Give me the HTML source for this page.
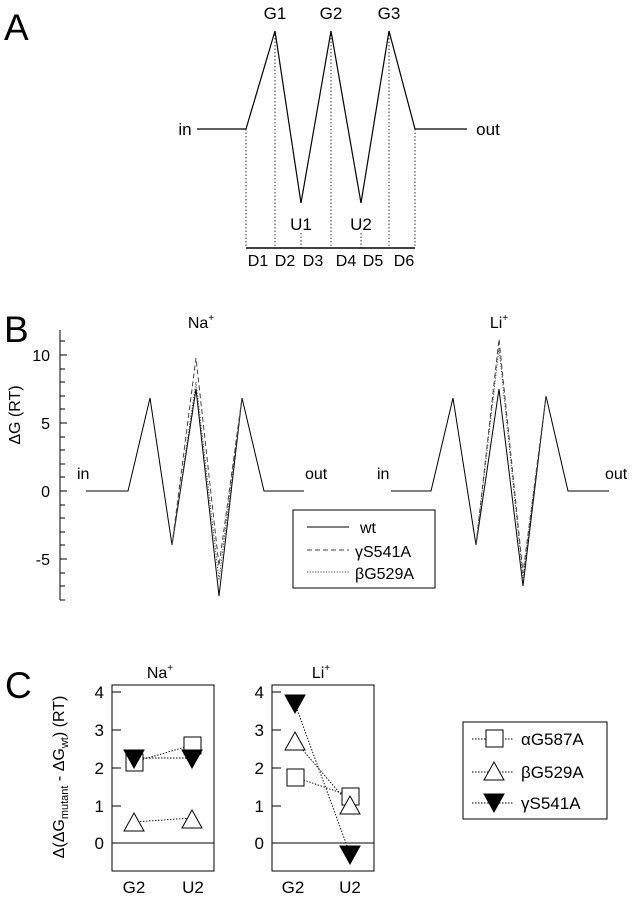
<!DOCTYPE html>
<html><head><meta charset="utf-8"><style>
html,body{margin:0;padding:0;background:#fff;}
svg{display:block;font-family:"Liberation Sans",sans-serif;}
</style></head><body>
<svg width="635" height="900" viewBox="0 0 635 900" xmlns="http://www.w3.org/2000/svg">
<g fill="#000" stroke="none">
<text x="4" y="40" font-size="37">A</text>
<text x="4" y="342" font-size="37">B</text>
<text x="5" y="698" font-size="37">C</text>
</g>
<!-- Panel A -->
<g stroke="#000" stroke-width="1.2" fill="none">
<polyline points="197,129 246,129 275,31 301,203 331,31 361,203 389,31 415,129 467,129"/>
<line x1="246" y1="248" x2="415" y2="248" stroke-width="1.6"/>
</g>
<g stroke="#000" stroke-width="0.8" stroke-dasharray="1.5,2" fill="none">
<line x1="246" y1="129" x2="246" y2="248"/>
<line x1="275" y1="31" x2="275" y2="248"/>
<line x1="301" y1="233" x2="301" y2="248"/>
<line x1="331" y1="31" x2="331" y2="248"/>
<line x1="361" y1="233" x2="361" y2="248"/>
<line x1="389" y1="31" x2="389" y2="248"/>
<line x1="415" y1="129" x2="415" y2="248"/>
</g>
<g font-size="17" text-anchor="middle">
<text x="275" y="19">G1</text><text x="331" y="19">G2</text><text x="389" y="19">G3</text>
<text x="301" y="230">U1</text><text x="361" y="230">U2</text>
<text x="185" y="135">in</text><text x="488" y="135">out</text>
</g>
<g font-size="16" text-anchor="middle">
<text x="258" y="266">D1</text><text x="285" y="266">D2</text><text x="313" y="266">D3</text>
<text x="346" y="266">D4</text><text x="373" y="266">D5</text><text x="404" y="266">D6</text>
</g>
<!-- Panel B -->
<g stroke="#000" stroke-width="1" fill="none">
<line x1="60" y1="330" x2="60" y2="600"/>
<path d="M60,341h5M60,355h7M60,369h5M60,382h5M60,396h5M60,409h5M60,423h7M60,437h5M60,450h5M60,464h5M60,477h5M60,491h7M60,505h5M60,518h5M60,532h5M60,545h5M60,559h7M60,573h5M60,586h5M60,600h5"/>
</g>
<g font-size="16" text-anchor="end">
<text x="50" y="361">10</text><text x="50" y="429">5</text><text x="50" y="497">0</text><text x="50" y="565">-5</text>
</g>
<text transform="translate(20,415) rotate(-90)" font-size="16" text-anchor="middle">ΔG (RT)</text>
<text x="201" y="328" font-size="16" text-anchor="middle">Na<tspan font-size="10" dy="-7">+</tspan></text>
<text x="499" y="328" font-size="16" text-anchor="middle">Li<tspan font-size="10" dy="-7">+</tspan></text>
<g font-size="16">
<text x="77" y="479">in</text><text x="305" y="479">out</text>
<text x="377" y="479">in</text><text x="605" y="479">out</text>
</g>
<g fill="none" stroke="#000" stroke-width="1">
<polyline points="86,491 128,491 150,398 172,545 196,389 219,596 242,398 264,491 304,491"/>
<polyline points="391,491 431,491 453,398 476,545 499,389 523,586 546,396 568,491 609,491"/>
</g>
<g fill="none" stroke="#444" stroke-width="1" stroke-dasharray="5,3">
<polyline points="172,545 196,358 219,566 242,398"/>
<polyline points="476,545 499,339 523,573 546,396"/>
</g>
<g fill="none" stroke="#444" stroke-width="1" stroke-dasharray="1.2,1.5">
<polyline points="172,545 196,382 219,580 242,398"/>
<polyline points="476,545 499,348 523,578 546,396"/>
</g>
<rect x="293" y="510" width="142" height="78" fill="#fff" stroke="#000" stroke-width="1"/>
<line x1="307" y1="527" x2="349" y2="527" stroke="#000"/>
<line x1="307" y1="550" x2="349" y2="550" stroke="#444" stroke-dasharray="5,3"/>
<line x1="307" y1="572" x2="349" y2="572" stroke="#444" stroke-dasharray="1.2,1.5"/>
<g font-size="16">
<text x="360" y="533">wt</text><text x="355" y="557">γS541A</text><text x="355" y="579">βG529A</text>
</g>
<!-- Panel C -->
<text x="160" y="678" font-size="16" text-anchor="middle">Na<tspan font-size="10" dy="-7">+</tspan></text>
<text x="321" y="678" font-size="16" text-anchor="middle">Li<tspan font-size="10" dy="-7">+</tspan></text>
<text transform="translate(64,777) rotate(-90)" font-size="16" text-anchor="middle">Δ(ΔG<tspan font-size="11" dy="4">mutant</tspan><tspan dy="-4"> - ΔG</tspan><tspan font-size="11" dy="4">wt</tspan><tspan dy="-4">) (RT)</tspan></text>
<g fill="none" stroke="#000" stroke-width="1">
<rect x="112" y="685" width="102" height="186"/>
<rect x="272" y="685" width="102" height="186"/>
<line x1="112" y1="843" x2="214" y2="843"/>
<line x1="272" y1="843" x2="374" y2="843"/>
<path d="M112,692h9M112,730h9M112,768h9M112,806h9"/>
<path d="M272,692h9M272,730h9M272,768h9M272,806h9"/>
</g>
<g font-size="17" text-anchor="end">
<text x="104" y="698">4</text><text x="104" y="736">3</text><text x="104" y="774">2</text><text x="104" y="812">1</text><text x="104" y="849">0</text>
<text x="264" y="698">4</text><text x="264" y="736">3</text><text x="264" y="774">2</text><text x="264" y="812">1</text><text x="264" y="849">0</text>
</g>
<g font-size="17" text-anchor="middle">
<text x="134" y="893">G2</text><text x="193" y="893">U2</text>
<text x="293" y="893">G2</text><text x="350" y="893">U2</text>
</g>
<g fill="none" stroke="#000" stroke-width="0.9" stroke-dasharray="1.5,1.5">
<line x1="134" y1="762" x2="192" y2="745"/>
<line x1="134" y1="758" x2="192" y2="758"/>
<line x1="134" y1="822" x2="192" y2="818"/>
<line x1="295" y1="704" x2="350" y2="854"/>
<line x1="295" y1="741" x2="350" y2="805"/>
<line x1="295" y1="777" x2="350" y2="796"/>
</g>
<g stroke="#000" stroke-width="1">
<rect x="126" y="754" width="17" height="17" fill="#fff"/>
<rect x="184" y="737" width="17" height="17" fill="#fff"/>
<polygon points="124,750 144,750 134,768" fill="#000"/>
<polygon points="182,750 202,750 192,768" fill="#000"/>
<polygon points="134,813 144,831 124,831" fill="#fff"/>
<polygon points="192,810 202,828 182,828" fill="#fff"/>
<rect x="287" y="769" width="17" height="17" fill="#fff"/>
<rect x="342" y="788" width="17" height="17" fill="#fff"/>
<polygon points="295,732 305,750 285,750" fill="#fff"/>
<polygon points="350,796 360,814 340,814" fill="#fff"/>
<polygon points="285,695 305,695 295,713" fill="#000"/>
<polygon points="340,846 360,846 350,864" fill="#000"/>
</g>
<rect x="463" y="722" width="144" height="97" fill="#fff" stroke="#000" stroke-width="1"/>
<g stroke="#000" stroke-width="0.9" stroke-dasharray="1.5,1.5">
<line x1="472" y1="739" x2="514" y2="739"/><line x1="472" y1="772" x2="514" y2="772"/><line x1="472" y1="803" x2="514" y2="803"/>
</g>
<g stroke="#000" stroke-width="1">
<rect x="486" y="730" width="17" height="17" fill="#fff"/>
<polygon points="494,762 504,780 484,780" fill="#fff"/>
<polygon points="484,794 504,794 494,812" fill="#000"/>
</g>
<g font-size="17">
<text x="521" y="745">αG587A</text><text x="521" y="778">βG529A</text><text x="521" y="809">γS541A</text>
</g>
</svg>
</body></html>
